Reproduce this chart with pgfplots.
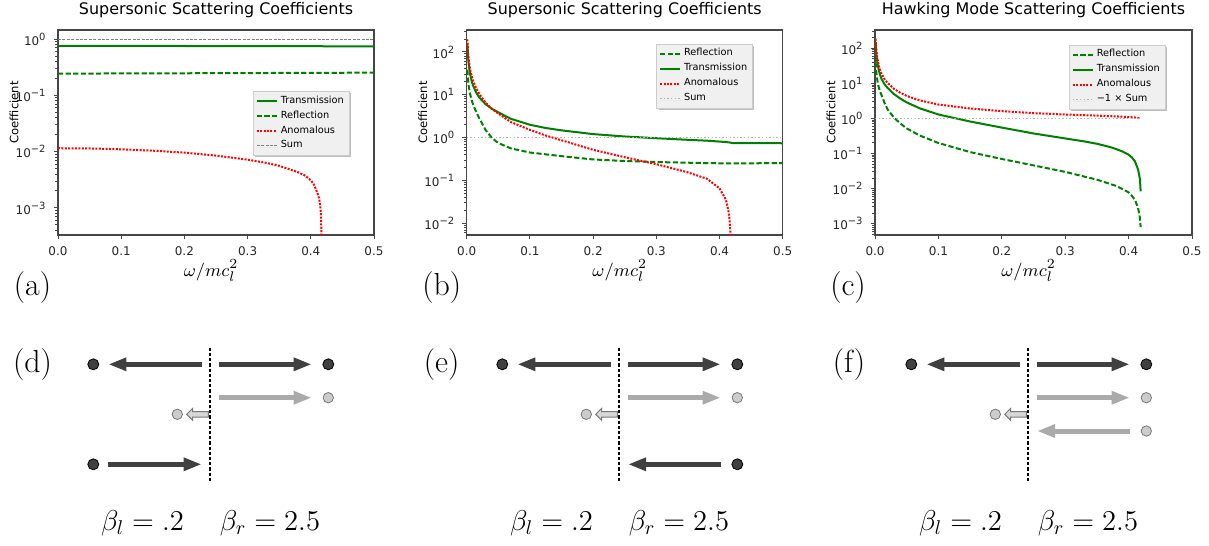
\documentclass[border=0pt]{standalone}
\usepackage{pgfplots}
\pgfplotsset{compat=1.18}
\usepackage{fontspec}
\newfontfamily\djv{DejaVu Sans}
\usetikzlibrary{arrows.meta}
\definecolor{mgreen}{rgb}{0,0.5,0}
\definecolor{mred}{rgb}{1,0,0}
\definecolor{dk}{RGB}{64,64,64}
\definecolor{gy}{RGB}{170,170,170}
\definecolor{ltdot}{RGB}{204,204,204}
\definecolor{ltedge}{RGB}{120,120,120}
\definecolor{ltfill}{RGB}{215,215,215}
\definecolor{legfill}{RGB}{240,240,240}
\definecolor{legdraw}{RGB}{204,204,204}
\definecolor{legshadow}{RGB}{190,190,190}
\definecolor{framec}{RGB}{70,70,70}
\tikzset{
  gsolid/.style={mgreen, line width=1bp},
  gdash/.style={mgreen, line width=1bp, dash pattern=on 2.6bp off 1.2bp},
  rdot/.style={mred, line width=1bp, dash pattern=on 1bp off 0.7bp},
  darr/.style={dk, line width=2.5bp, -{Triangle[length=9bp,width=6.2bp]}},
  garr/.style={gy, line width=2.5bp, -{Triangle[length=9bp,width=6.2bp]}},
  lab/.style={anchor=base, font=\fontsize{16}{18}\selectfont},
  bet/.style={anchor=base, font=\fontsize{14.9}{17}\selectfont},
}
\pgfplotsset{every axis title shift=0pt}
\begin{document}
\begin{tikzpicture}
\useasboundingbox (0,0) rectangle (604.5bp,-273bp);
% ---------------- (a)
\begin{axis}[scale only axis, width=158bp, height=102.5bp,
    ymode=log, xmin=0, xmax=0.5,
    xtick={0,0.1,0.2,0.3,0.4,0.5},
    xticklabels={0.0,0.1,0.2,0.3,0.4,0.5},
    tick align=outside, xtick pos=bottom, ytick pos=left,
    axis line style={framec, line width=0.6bp},
    every tick/.style={framec, line width=0.5bp},
    major tick length=2.2bp, minor tick length=1.3bp,
    tick label style={font=\djv\fontsize{6}{7}\selectfont, text=black!85},
    yticklabel={\pgfmathtruncatemacro\ee{round(\tick/2.302585093)}10\textsuperscript{\ifnum\ee<0 −\the\numexpr-\ee\relax\else\ee\fi}},
    title style={font=\djv\fontsize{8}{9}\selectfont, at={(axis description cs:0.5,1)}, anchor=base, yshift=7.85bp},
    xlabel={$\omega/mc_l^2$},
    xlabel style={font=\fontsize{9.5}{11}\selectfont, at={(axis description cs:0.5,0)}, anchor=base, yshift=-20.5bp, xshift=-2.5bp},
    ylabel={Coefficient},
    ylabel style={font=\djv\fontsize{5.8}{7}\selectfont, at={(axis description cs:-0.139,0.598)}, anchor=center},
    legend cell align=left,
    legend style={font=\djv\fontsize{4.9}{5.8}\selectfont, fill=legfill, draw=legdraw, line width=0.4bp,
      anchor=north west, inner xsep=1.2bp, inner ysep=1.6bp, row sep=1.3bp, nodes={inner ysep=0.5bp, inner xsep=1.5bp},
      preaction={fill=legshadow, draw=none, transform canvas={xshift=0.9bp, yshift=-0.9bp}}},
    legend image code/.code={\draw[#1] (0bp,0bp) -- (10bp,0bp);},
  at={(29bp,-117.5bp)}, anchor=south west,
  ymin=3.3e-4, ymax=1.45, title={Supersonic Scattering Coefficients},
  ytick={1e-3,1e-2,1e-1,1},
  minor ytick={4e-4,5e-4,6e-4,7e-4,8e-4,9e-4,2e-3,3e-3,4e-3,5e-3,6e-3,7e-3,8e-3,9e-3,2e-2,3e-2,4e-2,5e-2,6e-2,7e-2,8e-2,9e-2,2e-1,3e-1,4e-1,5e-1,6e-1,7e-1,8e-1,9e-1},
  legend style={at={(axis description cs:0.617,0.702)}}]
\addplot[gsolid] coordinates {(0,0.760) (0.1,0.758) (0.2,0.754) (0.3,0.750) (0.4,0.747) (0.45,0.745) (0.5,0.742)};
\addlegendentry{Transmission}
\addplot[gdash] coordinates {(0,0.244) (0.1,0.245) (0.2,0.247) (0.3,0.249) (0.4,0.251) (0.45,0.252) (0.5,0.254)};
\addlegendentry{Reflection}
\addplot[rdot] coordinates {(0,0.0115) (0.05,0.0114) (0.1,0.0110) (0.15,0.0104) (0.2,0.0096) (0.25,0.0085) (0.3,0.0072) (0.33,0.0063) (0.35,0.0056) (0.37,0.0047) (0.38,0.0043) (0.39,0.0038) (0.40,0.0031) (0.405,0.0026) (0.41,0.0019) (0.413,0.0015) (0.415,0.0011) (0.416,0.0008) (0.4165,0.0005) (0.417,0.0001)};
\addlegendentry{Anomalous}
\addplot[gray, line width=0.4bp, dash pattern=on 1.5bp off 0.7bp] coordinates {(0,1) (0.5,1)};
\addlegendentry{Sum}
\end{axis}
% ---------------- (b)
\begin{axis}[scale only axis, width=158bp, height=102.5bp,
    ymode=log, xmin=0, xmax=0.5,
    xtick={0,0.1,0.2,0.3,0.4,0.5},
    xticklabels={0.0,0.1,0.2,0.3,0.4,0.5},
    tick align=outside, xtick pos=bottom, ytick pos=left,
    axis line style={framec, line width=0.6bp},
    every tick/.style={framec, line width=0.5bp},
    major tick length=2.2bp, minor tick length=1.3bp,
    tick label style={font=\djv\fontsize{6}{7}\selectfont, text=black!85},
    yticklabel={\pgfmathtruncatemacro\ee{round(\tick/2.302585093)}10\textsuperscript{\ifnum\ee<0 −\the\numexpr-\ee\relax\else\ee\fi}},
    title style={font=\djv\fontsize{8}{9}\selectfont, at={(axis description cs:0.5,1)}, anchor=base, yshift=7.85bp},
    xlabel={$\omega/mc_l^2$},
    xlabel style={font=\fontsize{9.5}{11}\selectfont, at={(axis description cs:0.5,0)}, anchor=base, yshift=-20.5bp, xshift=-2.5bp},
    ylabel={Coefficient},
    ylabel style={font=\djv\fontsize{5.8}{7}\selectfont, at={(axis description cs:-0.139,0.598)}, anchor=center},
    legend cell align=left,
    legend style={font=\djv\fontsize{4.9}{5.8}\selectfont, fill=legfill, draw=legdraw, line width=0.4bp,
      anchor=north west, inner xsep=1.2bp, inner ysep=1.6bp, row sep=1.3bp, nodes={inner ysep=0.5bp, inner xsep=1.5bp},
      preaction={fill=legshadow, draw=none, transform canvas={xshift=0.9bp, yshift=-0.9bp}}},
    legend image code/.code={\draw[#1] (0bp,0bp) -- (10bp,0bp);},
  at={(233.35bp,-117.5bp)}, anchor=south west,
  ymin=5.35e-3, ymax=325, title={Supersonic Scattering Coefficients},
  ytick={1e-2,1e-1,1,1e1,1e2},
  minor ytick={6e-3,7e-3,8e-3,9e-3,2e-2,3e-2,4e-2,5e-2,6e-2,7e-2,8e-2,9e-2,2e-1,3e-1,4e-1,5e-1,6e-1,7e-1,8e-1,9e-1,2,3,4,5,6,7,8,9,20,30,40,50,60,70,80,90,200,300},
  legend style={at={(axis description cs:0.60,0.932)}}]
\addplot[gdash] coordinates {(0.001,38) (0.002,24) (0.003,17) (0.005,11) (0.0075,7.8) (0.01,6.0) (0.015,4.0) (0.02,2.8) (0.03,1.5) (0.04,0.98) (0.05,0.75) (0.07,0.56) (0.1,0.45) (0.15,0.37) (0.2,0.31) (0.25,0.285) (0.3,0.27) (0.35,0.26) (0.38,0.255) (0.4,0.252) (0.42,0.25) (0.45,0.252) (0.5,0.255)};
\addlegendentry{Reflection}
\addplot[gsolid] coordinates {(0.001,160) (0.002,81) (0.003,54) (0.005,32.5) (0.0075,21.8) (0.01,16.5) (0.015,11.3) (0.02,8.6) (0.03,6.0) (0.04,4.7) (0.05,3.9) (0.07,2.75) (0.1,2.0) (0.125,1.68) (0.15,1.48) (0.2,1.21) (0.25,1.065) (0.3,0.97) (0.35,0.89) (0.38,0.85) (0.4,0.81) (0.41,0.79) (0.415,0.775) (0.418,0.762) (0.42,0.748) (0.45,0.744) (0.5,0.74)};
\addlegendentry{Transmission}
\addplot[rdot] coordinates {(0.001,197) (0.002,104) (0.003,70) (0.005,42) (0.0075,28.6) (0.01,21.5) (0.015,14.3) (0.02,10.4) (0.03,6.5) (0.04,4.68) (0.05,3.65) (0.07,2.31) (0.1,1.52) (0.125,1.12) (0.15,0.87) (0.2,0.52) (0.25,0.35) (0.3,0.24) (0.35,0.155) (0.38,0.11) (0.4,0.066) (0.41,0.036) (0.414,0.02) (0.416,0.012) (0.4175,0.005) (0.418,0.002)};
\addlegendentry{Anomalous}
\addplot[black!30, line width=0.7bp, dash pattern=on 0.7bp off 1.1bp] coordinates {(0,1) (0.5,1)};
\addlegendentry{Sum}
\end{axis}
% ---------------- (c)
\begin{axis}[scale only axis, width=158.5bp, height=102.5bp,
    ymode=log, xmin=0, xmax=0.5,
    xtick={0,0.1,0.2,0.3,0.4,0.5},
    xticklabels={0.0,0.1,0.2,0.3,0.4,0.5},
    tick align=outside, xtick pos=bottom, ytick pos=left,
    axis line style={framec, line width=0.6bp},
    every tick/.style={framec, line width=0.5bp},
    major tick length=2.2bp, minor tick length=1.3bp,
    tick label style={font=\djv\fontsize{6}{7}\selectfont, text=black!85},
    yticklabel={\pgfmathtruncatemacro\ee{round(\tick/2.302585093)}10\textsuperscript{\ifnum\ee<0 −\the\numexpr-\ee\relax\else\ee\fi}},
    title style={font=\djv\fontsize{8}{9}\selectfont, at={(axis description cs:0.5,1)}, anchor=base, yshift=7.85bp},
    xlabel={$\omega/mc_l^2$},
    xlabel style={font=\fontsize{9.5}{11}\selectfont, at={(axis description cs:0.5,0)}, anchor=base, yshift=-20.5bp, xshift=-2.5bp},
    ylabel={Coefficient},
    ylabel style={font=\djv\fontsize{5.8}{7}\selectfont, at={(axis description cs:-0.139,0.598)}, anchor=center},
    legend cell align=left,
    legend style={font=\djv\fontsize{4.9}{5.8}\selectfont, fill=legfill, draw=legdraw, line width=0.4bp,
      anchor=north west, inner xsep=1.2bp, inner ysep=1.6bp, row sep=1.3bp, nodes={inner ysep=0.5bp, inner xsep=1.5bp},
      preaction={fill=legshadow, draw=none, transform canvas={xshift=0.9bp, yshift=-0.9bp}}},
    legend image code/.code={\draw[#1] (0bp,0bp) -- (10bp,0bp);},
  at={(437.5bp,-117.5bp)}, anchor=south west,
  ymin=4.75e-4, ymax=334, title={Hawking Mode Scattering Coefficients},
  ytick={1e-3,1e-2,1e-1,1,1e1,1e2},
  minor ytick={5e-4,6e-4,7e-4,8e-4,9e-4,2e-3,3e-3,4e-3,5e-3,6e-3,7e-3,8e-3,9e-3,2e-2,3e-2,4e-2,5e-2,6e-2,7e-2,8e-2,9e-2,2e-1,3e-1,4e-1,5e-1,6e-1,7e-1,8e-1,9e-1,2,3,4,5,6,7,8,9,20,30,40,50,60,70,80,90,200,300},
  legend style={at={(axis description cs:0.612,0.927)}}]
\addplot[gdash] coordinates {(0.001,40) (0.002,22) (0.003,15) (0.005,9) (0.0075,6.2) (0.01,4.8) (0.015,2.8) (0.02,1.8) (0.03,1.05) (0.04,0.72) (0.05,0.52) (0.07,0.33) (0.1,0.2) (0.15,0.11) (0.2,0.07) (0.25,0.046) (0.3,0.03) (0.35,0.018) (0.38,0.012) (0.39,0.0098) (0.4,0.0078) (0.405,0.0063) (0.41,0.0048) (0.415,0.0028) (0.418,0.0014) (0.419,0.0008)};
\addlegendentry{Reflection}
\addplot[gsolid] coordinates {(0.001,149) (0.002,73) (0.003,48) (0.005,29) (0.0075,18.8) (0.01,13.7) (0.015,9.5) (0.02,7.4) (0.03,4.95) (0.04,3.68) (0.05,2.88) (0.07,1.97) (0.1,1.3) (0.15,0.82) (0.2,0.55) (0.25,0.374) (0.3,0.27) (0.33,0.222) (0.35,0.19) (0.37,0.155) (0.38,0.135) (0.39,0.115) (0.4,0.093) (0.405,0.078) (0.41,0.060) (0.415,0.035) (0.418,0.018) (0.419,0.0083)};
\addlegendentry{Transmission}
\addplot[rdot] coordinates {(0.001,190) (0.002,96) (0.003,64) (0.005,39) (0.0075,26) (0.01,19.5) (0.015,13.3) (0.02,10.2) (0.03,7.0) (0.04,5.4) (0.05,4.4) (0.07,3.3) (0.1,2.5) (0.15,1.93) (0.2,1.62) (0.25,1.42) (0.3,1.30) (0.35,1.208) (0.38,1.147) (0.39,1.125) (0.4,1.101) (0.405,1.084) (0.41,1.065) (0.415,1.038) (0.418,1.0194) (0.419,1.009)};
\addlegendentry{Anomalous}
\addplot[black!30, line width=0.7bp, dash pattern=on 0.7bp off 1.1bp] coordinates {(0,1) (0.42,1)};
\addlegendentry{−1 × Sum}
\end{axis}
% ---------------- diagrams and labels
\begin{axis}[hide axis, scale only axis, width=604.5bp, height=273bp,
  at={(0,-273bp)}, anchor=south west, xmin=0, xmax=1209, ymin=0, ymax=546,
  y dir=reverse, clip=false]
\node[lab] at (axis cs:32.5,295.7) {(a)};
\node[lab] at (axis cs:441.7,295.7) {(b)};
\node[lab] at (axis cs:848,295.7) {(c)};
\node[lab] at (axis cs:32.5,372) {(d)};
\node[lab] at (axis cs:441.7,372) {(e)};
\node[lab] at (axis cs:849,372) {(f)};
\node[bet] at (axis cs:142.5,530) {$\beta_l = .2$};
\node[bet] at (axis cs:270,530) {$\beta_r = 2.5$};
\node[bet] at (axis cs:551.5,530) {$\beta_l = .2$};
\node[bet] at (axis cs:679,530) {$\beta_r = 2.5$};
\node[bet] at (axis cs:960.5,530) {$\beta_l = .2$};
\node[bet] at (axis cs:1088,530) {$\beta_r = 2.5$};
\addplot[black, line width=0.6bp, dash pattern=on 1.6bp off 1bp] coordinates {(210,347.7) (210,481.7)};
\addplot[black, line width=0.6bp, dash pattern=on 1.6bp off 1bp] coordinates {(619,347.7) (619,481.7)};
\addplot[black, line width=0.6bp, dash pattern=on 1.6bp off 1bp] coordinates {(1028,347.7) (1028,481.7)};
\addplot[darr] coordinates {(201.7,364.3) (108.3,364.3)};
\addplot[darr] coordinates {(219,364.3) (311.7,364.3)};
\addplot[darr] coordinates {(108.3,464.3) (201.7,464.3)};
\addplot[darr] coordinates {(610.7,364.3) (517.3,364.3)};
\addplot[darr] coordinates {(628,364.3) (720.7,364.3)};
\addplot[darr] coordinates {(720.7,464.3) (628,464.3)};
\addplot[darr] coordinates {(1019.7,364.3) (926.3,364.3)};
\addplot[darr] coordinates {(1037,364.3) (1129.7,364.3)};
\addplot[garr] coordinates {(219,397.7) (311.7,397.7)};
\addplot[garr] coordinates {(628,397.7) (720.7,397.7)};
\addplot[garr] coordinates {(1037,397.7) (1129.7,397.7)};
\addplot[garr] coordinates {(1129.7,431) (1037,431)};
\addplot[fill=ltfill, draw=ltedge, line width=0.5bp] coordinates {(208.3,411.5) (192.7,411.5) (192.7,408.3) (186.7,414.3) (192.7,420.3) (192.7,417.1) (208.3,417.1)} -- cycle;
\addplot[fill=ltfill, draw=ltedge, line width=0.5bp] coordinates {(617.3,411.5) (601.7,411.5) (601.7,408.3) (595.7,414.3) (601.7,420.3) (601.7,417.1) (617.3,417.1)} -- cycle;
\addplot[fill=ltfill, draw=ltedge, line width=0.5bp] coordinates {(1026.3,411.5) (1010.7,411.5) (1010.7,408.3) (1004.7,414.3) (1010.7,420.3) (1010.7,417.1) (1026.3,417.1)} -- cycle;
\addplot[only marks, mark=*, mark size=2.75bp, mark options={fill=dk, draw=black, line width=0.4bp}] coordinates {(93.3,364.3) (328.3,364.3) (93.3,464.3) (502.3,364.3) (737.3,364.3) (737.3,464.3) (911.3,364.3) (1146.3,364.3)};
\addplot[only marks, mark=*, mark size=2.6bp, mark options={fill=ltdot, draw=ltedge, line width=0.4bp}] coordinates {(328.3,397.7) (177.3,414.3) (737.3,397.7) (586.3,414.3) (1146.3,397.7) (995.3,414.3) (1146.3,431)};
\end{axis}
\end{tikzpicture}
\end{document}
